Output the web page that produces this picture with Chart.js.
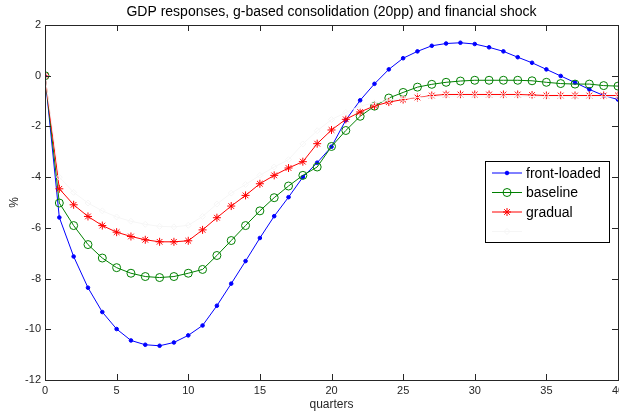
<!DOCTYPE html>
<html>
<head>
<meta charset="utf-8">
<script src="https://cdn.jsdelivr.net/npm/chart.js@4.4.1/dist/chart.umd.min.js"></script>
<style>
    html, body { margin: 0; padding: 0; overflow: hidden; background: #fff; }
</style>
</head>
<body>
<canvas id="gdpCanvas" width="640" height="416"></canvas>
<script>
const quarters = [0, 1, 2, 3, 4, 5, 6, 7, 8, 9, 10, 11, 12, 13, 14, 15, 16, 17, 18, 19, 20,
    21, 22, 23, 24, 25, 26, 27, 28, 29, 30, 31, 32, 33, 34, 35, 36, 37, 38, 39, 40];

const frontLoaded = [0, -5.59, -7.13, -8.36, -9.32, -9.99, -10.44, -10.61, -10.65, -10.52, -10.24,
    -9.85, -9.07, -8.2, -7.31, -6.4, -5.54, -4.79, -4.0, -3.43, -2.8,
    -1.75, -0.97, -0.32, 0.25, 0.69, 0.96, 1.18, 1.27, 1.3, 1.25,
    1.12, 0.96, 0.73, 0.51, 0.25, -0.01, -0.27, -0.54, -0.78, -0.94];

const baseline = [0, -5.02, -5.91, -6.66, -7.19, -7.57, -7.79, -7.92, -7.96, -7.92, -7.79,
    -7.64, -7.09, -6.5, -5.91, -5.33, -4.81, -4.35, -3.93, -3.6, -2.79,
    -2.16, -1.6, -1.2, -0.88, -0.66, -0.45, -0.34, -0.26, -0.21, -0.18,
    -0.18, -0.18, -0.18, -0.2, -0.26, -0.31, -0.33, -0.33, -0.39, -0.41];

const gradual = [0, -4.46, -5.09, -5.55, -5.91, -6.17, -6.34, -6.47, -6.55, -6.55, -6.51,
    -6.08, -5.6, -5.14, -4.72, -4.26, -3.93, -3.64, -3.39, -2.68, -2.14,
    -1.72, -1.43, -1.19, -1.04, -0.94, -0.86, -0.78, -0.74, -0.74, -0.74,
    -0.74, -0.74, -0.74, -0.76, -0.78, -0.78, -0.78, -0.78, -0.78, -0.78];

// faint, nearly white fourth series (no legend label)
const unnamed = [0, -4.0, -4.6, -5.02, -5.33, -5.57, -5.74, -5.86, -5.94, -5.96, -5.9,
    -5.55, -5.06, -4.63, -4.29, -3.93, -3.6, -3.31, -2.69, -2.17, -1.73,
    -1.45, -1.2, -1.07, -0.96, -0.9, -0.86, -0.83, -0.8, -0.8, -0.8,
    -0.8, -0.8, -0.8, -0.82, -0.83, -0.83, -0.83, -0.83, -0.83, -0.83];

const xTicks = [0, 5, 10, 15, 20, 25, 30, 35, 40];
const yTicks = [-12, -10, -8, -6, -4, -2, 0, 2];

const titleText = 'GDP responses, g-based consolidation (20pp) and financial shock';
const fontFamily = "'Liberation Sans', Arial, sans-serif";
const axisColor = '#262626';

const toPoints = (vals) => quarters.map((q, i) => ({ x: q, y: vals[i] }));

const series = [
    { label: 'front-loaded', data: frontLoaded, color: '#0000ff', pointStyle: 'circle', radius: 1.8, fill: '#0000ff', order: 3 },
    { label: 'baseline', data: baseline, color: '#008000', pointStyle: 'circle', radius: 4, fill: 'rgba(0,0,0,0)', order: 2 },
    { label: 'gradual', data: gradual, color: '#ff0000', pointStyle: 'star', radius: 4, fill: '#ff0000', order: 1 },
    { label: '', data: unnamed, color: '#f6f6f6', pointStyle: 'rectRot', radius: 3, fill: 'rgba(0,0,0,0)', order: 0 }
];

const matlabAxes = {
    id: 'matlabAxes',
    afterDatasetsDraw(chart) {
        const { ctx, chartArea: a, scales: { x, y } } = chart;
        ctx.save();

        // frame and inward ticks
        ctx.strokeStyle = axisColor;
        ctx.lineWidth = 1;
        ctx.strokeRect(a.left + 0.5, a.top + 0.5, a.right - a.left, a.bottom - a.top);
        ctx.beginPath();
        xTicks.forEach(v => {
            const px = Math.round(x.getPixelForValue(v)) + 0.5;
            ctx.moveTo(px, a.bottom); ctx.lineTo(px, a.bottom - 6);
            ctx.moveTo(px, a.top); ctx.lineTo(px, a.top + 6);
        });
        yTicks.forEach(v => {
            const py = Math.round(y.getPixelForValue(v)) + 0.5;
            ctx.moveTo(a.left, py); ctx.lineTo(a.left + 6, py);
            ctx.moveTo(a.right, py); ctx.lineTo(a.right - 6, py);
        });
        ctx.stroke();

        // title
        ctx.fillStyle = '#000';
        ctx.font = '14px ' + fontFamily;
        ctx.textAlign = 'center';
        ctx.textBaseline = 'middle';
        ctx.fillText(titleText, (a.left + a.right) / 2, 12);

        // legend
        const box = { left: 485.5, top: 161.5, width: 124, height: 81 };
        ctx.fillStyle = '#fff';
        ctx.fillRect(box.left, box.top, box.width, box.height);
        ctx.strokeStyle = '#000';
        ctx.strokeRect(box.left, box.top, box.width, box.height);
        ctx.textAlign = 'left';
        series.forEach((s, i) => {
            const ly = 173 + i * 19.5;
            ctx.strokeStyle = s.color;
            ctx.lineWidth = 1;
            ctx.beginPath();
            ctx.moveTo(492, ly); ctx.lineTo(522, ly);
            ctx.stroke();
            ctx.fillStyle = s.fill;
            Chart.helpers.drawPoint(ctx, { pointStyle: s.pointStyle, radius: s.radius, rotation: 0, borderWidth: 1 }, 507, ly);
            ctx.fillStyle = '#000';
            ctx.fillText(s.label, 526, ly + 1);
        });
        ctx.restore();
    }
};

new Chart(document.getElementById('gdpCanvas'), {
    type: 'line',
    data: {
        datasets: series.map(s => ({
            label: s.label,
            data: toPoints(s.data),
            borderColor: s.color,
            backgroundColor: s.fill,
            borderWidth: 1,
            pointStyle: s.pointStyle,
            pointRadius: s.radius,
            pointBorderWidth: 1,
            pointBorderColor: s.color,
            pointBackgroundColor: s.fill,
            tension: 0,
            fill: false,
            order: s.order
        }))
    },
    options: {
        responsive: false,
        animation: false,
        devicePixelRatio: 1,
        layout: { padding: { top: 25, right: 22, left: 0, bottom: 0 } },
        plugins: {
            legend: { display: false },
            tooltip: { enabled: false }
        },
        scales: {
            x: {
                type: 'linear',
                min: 0,
                max: 40,
                grid: { display: false, drawTicks: false },
                border: { display: false },
                ticks: { stepSize: 5, padding: 4, color: axisColor, font: { family: fontFamily, size: 11 }, maxRotation: 0 },
                title: { display: true, text: 'quarters', color: axisColor, font: { family: fontFamily, size: 12 }, padding: { top: 0, bottom: 4 } },
                afterFit: (scale) => { scale.height = 36; }
            },
            y: {
                min: -12,
                max: 2,
                grid: { display: false, drawTicks: false },
                border: { display: false },
                ticks: { stepSize: 2, padding: 4, color: axisColor, font: { family: fontFamily, size: 11 } },
                title: { display: true, text: '%', color: axisColor, font: { family: fontFamily, size: 12 }, padding: { top: 7, bottom: 0 } },
                afterFit: (scale) => { scale.width = 45; }
            }
        }
    },
    plugins: [matlabAxes]
});
</script>
</body>
</html>
